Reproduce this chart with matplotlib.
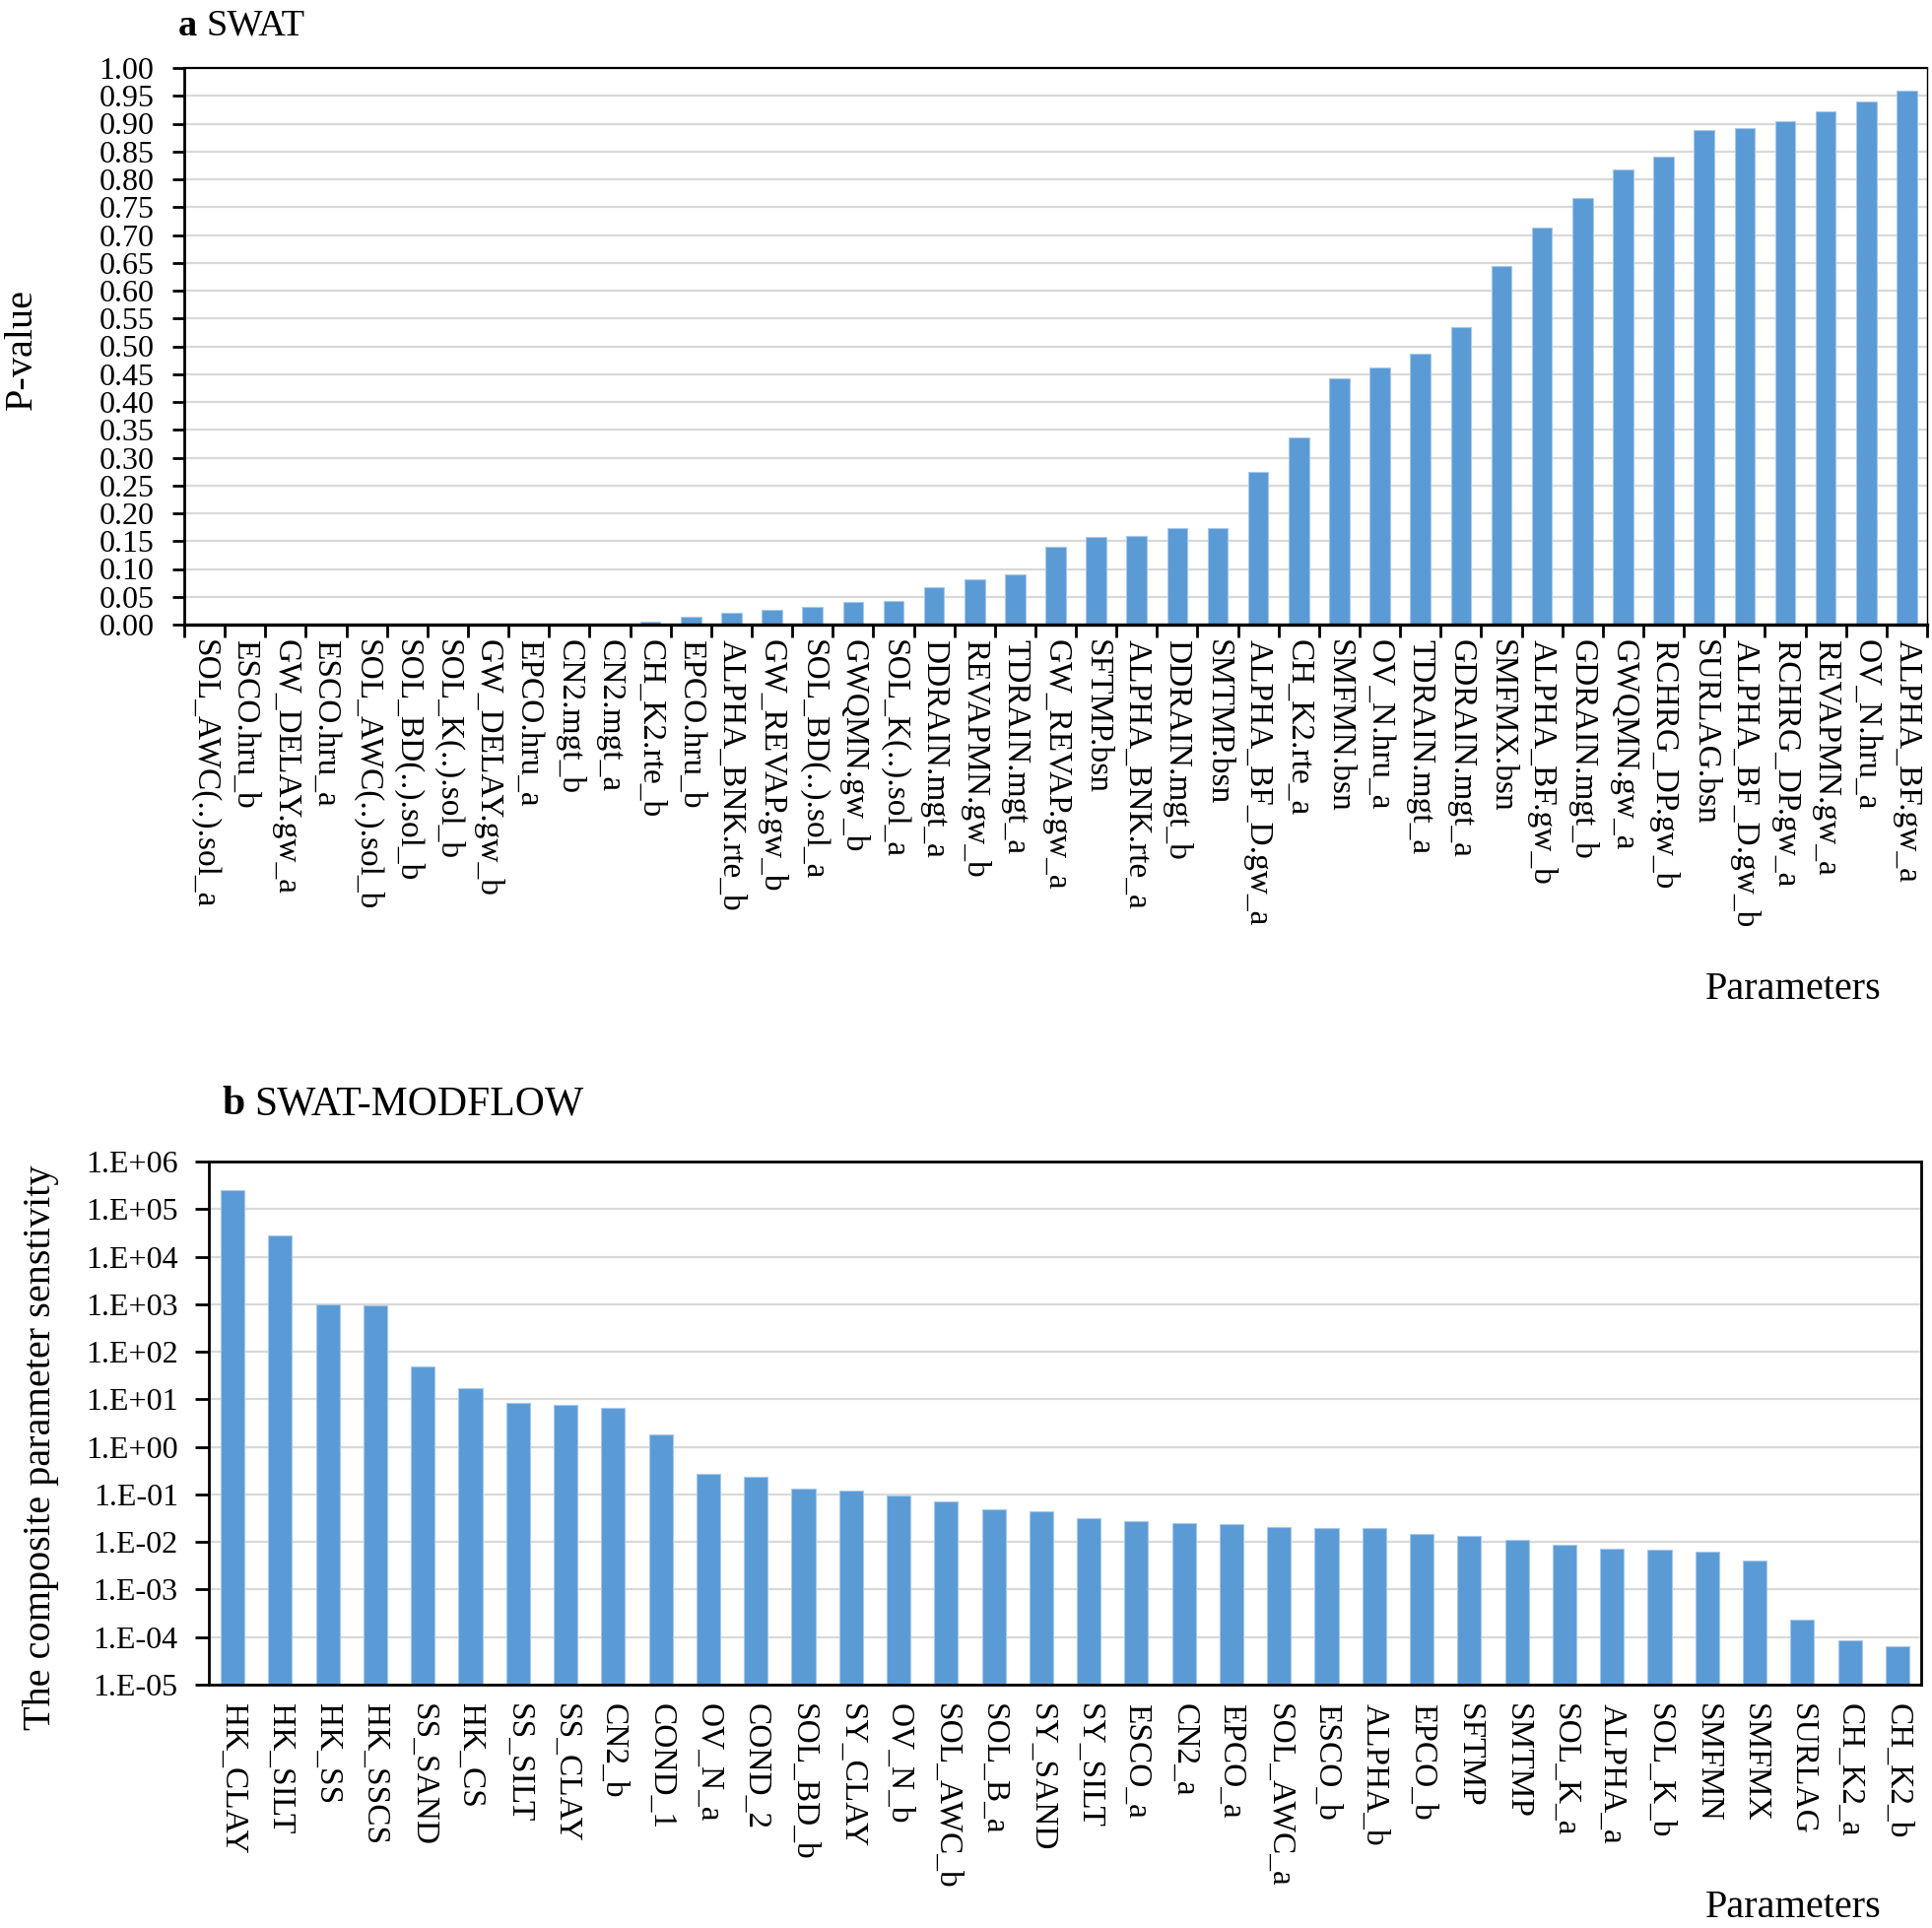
import matplotlib
matplotlib.use('Agg')
import matplotlib.pyplot as plt
import numpy as np
from matplotlib.ticker import FixedLocator, FuncFormatter, NullLocator

plt.rcParams['font.family'] = ['Liberation Serif', 'DejaVu Serif']

# ---------------- data ----------------
swat_params = [
    "SOL_AWC(..).sol_a", "ESCO.hru_b", "GW_DELAY.gw_a", "ESCO.hru_a", "SOL_AWC(..).sol_b",
    "SOL_BD(..).sol_b", "SOL_K(..).sol_b", "GW_DELAY.gw_b", "EPCO.hru_a", "CN2.mgt_b",
    "CN2.mgt_a", "CH_K2.rte_b", "EPCO.hru_b", "ALPHA_BNK.rte_b", "GW_REVAP.gw_b",
    "SOL_BD(..).sol_a", "GWQMN.gw_b", "SOL_K(..).sol_a", "DDRAIN.mgt_a", "REVAPMN.gw_b",
    "TDRAIN.mgt_a", "GW_REVAP.gw_a", "SFTMP.bsn", "ALPHA_BNK.rte_a", "DDRAIN.mgt_b",
    "SMTMP.bsn", "ALPHA_BF_D.gw_a", "CH_K2.rte_a", "SMFMN.bsn", "OV_N.hru_a",
    "TDRAIN.mgt_a", "GDRAIN.mgt_a", "SMFMX.bsn", "ALPHA_BF.gw_b", "GDRAIN.mgt_b",
    "GWQMN.gw_a", "RCHRG_DP.gw_b", "SURLAG.bsn", "ALPHA_BF_D.gw_b", "RCHRG_DP.gw_a",
    "REVAPMN.gw_a", "OV_N.hru_a", "ALPHA_BF.gw_a",
]
swat_pvalues = [
    0.0, 0.0, 0.0, 0.0, 0.0,
    0.0, 0.0, 0.0, 0.0, 0.0,
    0.0, 0.005, 0.014, 0.022, 0.027,
    0.031, 0.040, 0.042, 0.067, 0.081,
    0.090, 0.139, 0.158, 0.159, 0.173,
    0.173, 0.274, 0.337, 0.443, 0.462,
    0.486, 0.535, 0.644, 0.713, 0.766,
    0.818, 0.841, 0.888, 0.892, 0.905,
    0.923, 0.940, 0.960,
]
swat_yticks = [0.00, 0.05, 0.10, 0.15, 0.20, 0.25, 0.30, 0.35, 0.40, 0.45, 0.50,
               0.55, 0.60, 0.65, 0.70, 0.75, 0.80, 0.85, 0.90, 0.95, 1.00]

sm_params = [
    "HK_CLAY", "HK_SILT", "HK_SS", "HK_SSCS", "SS_SAND", "HK_CS", "SS_SILT", "SS_CLAY",
    "CN2_b", "COND_1", "OV_N_a", "COND_2", "SOL_BD_b", "SY_CLAY", "OV_N_b", "SOL_AWC_b",
    "SOL_B_a", "SY_SAND", "SY_SILT", "ESCO_a", "CN2_a", "EPCO_a", "SOL_AWC_a", "ESCO_b",
    "ALPHA_b", "EPCO_b", "SFTMP", "SMTMP", "SOL_K_a", "ALPHA_a", "SOL_K_b", "SMFMN",
    "SMFMX", "SURLAG", "CH_K2_a", "CH_K2_b",
]
sm_sensitivity = [
    2.5e5, 2.83e4, 980, 923, 50.2, 16.9, 8.45, 7.8,
    6.5, 1.87, 0.27, 0.24, 0.132, 0.12, 0.0944, 0.070,
    0.049, 0.0445, 0.0318, 0.0271, 0.0251, 0.0236, 0.0206, 0.0198,
    0.0198, 0.0150, 0.0136, 0.01135, 0.00895, 0.0072, 0.0069, 0.00627,
    0.00413, 2.3e-4, 8.5e-5, 6.3e-5,
]
sm_ytick_exponents = [-5, -4, -3, -2, -1, 0, 1, 2, 3, 4, 5, 6]

# ---------------- style ----------------
BLUE = '#5B9BD5'
EDGE = '#A8C8EA'
GRID = '#D9D9D9'
TICK_FS = 23
XTICK_FS = 24
LABEL_FS = 29

W, H = 1961, 1957
fig = plt.figure(figsize=(W / 100, H / 100), dpi=100)


def axes_rect(l, t, r, b):
    return [l / W, 1 - b / H, (r - l) / W, (b - t) / H]


# ---------------- panel a ----------------
ax1 = fig.add_axes(axes_rect(187, 69, 1956, 634))
n1 = len(swat_params)
x1 = np.arange(n1)
ax1.bar(x1, swat_pvalues, width=0.5, color=BLUE, edgecolor=EDGE, linewidth=0.8, zorder=3)
ax1.set_xlim(-0.5, n1 - 0.5)
ax1.set_ylim(0, 1.0)
ax1.set_yticks(swat_yticks)
ax1.set_yticklabels([f"{v:.2f}" for v in swat_yticks])
ax1.yaxis.grid(True, color=GRID, linewidth=1.6, zorder=0)
ax1.set_axisbelow(True)

ax1.xaxis.set_major_locator(FixedLocator(np.arange(n1 + 1) - 0.5))
ax1.xaxis.set_minor_locator(FixedLocator(x1))
ax1.set_xticklabels(swat_params, minor=True, rotation=270, va='top', ha='center',
                    fontsize=XTICK_FS)
ax1.tick_params(axis='x', which='major', length=9, width=2, direction='out',
                labelbottom=False, color='black')
ax1.tick_params(axis='x', which='minor', length=0, pad=11)
ax1.tick_params(axis='y', length=9, width=2, direction='out', pad=13, labelsize=TICK_FS)

ax1.spines['left'].set_linewidth(2.0)
ax1.spines['bottom'].set_linewidth(2.4)
ax1.spines['top'].set_linewidth(1.6)
ax1.spines['right'].set_linewidth(1.0)
for s in ax1.spines.values():
    s.set_color('black')
    s.set_zorder(5)

# ---------------- panel b ----------------
ax2 = fig.add_axes(axes_rect(212, 1179, 1950, 1710))
n2 = len(sm_params)
x2 = np.arange(n2)
ax2.set_yscale('log')
ax2.bar(x2, sm_sensitivity, width=0.5, color=BLUE, edgecolor=EDGE, linewidth=0.8, zorder=3)
ax2.set_xlim(-0.5, n2 - 0.5)
ax2.set_ylim(10.0 ** sm_ytick_exponents[0], 10.0 ** sm_ytick_exponents[-1])
ax2.yaxis.set_major_locator(FixedLocator([10.0 ** e for e in sm_ytick_exponents]))
ax2.yaxis.set_minor_locator(NullLocator())
ax2.yaxis.set_major_formatter(
    FuncFormatter(lambda v, p: "1.E{:+03d}".format(int(round(np.log10(v))))))
ax2.yaxis.grid(True, color=GRID, linewidth=1.6, zorder=0)
ax2.set_axisbelow(True)
ax2.set_xticks(x2)
ax2.set_xticklabels(sm_params, rotation=270, va='top', ha='center', fontsize=XTICK_FS)
ax2.tick_params(axis='x', length=0, pad=14)
ax2.tick_params(axis='y', length=10, width=2, direction='out', pad=12.5, labelsize=TICK_FS)
for s in ax2.spines.values():
    s.set_linewidth(2.0)
    s.set_color('black')
    s.set_zorder(5)

# ---------------- titles & labels ----------------
fig.canvas.draw()
rend = fig.canvas.get_renderer()

ta = fig.text(181 / W, 1 - 26 / H, 'a', fontsize=27.5, fontweight='bold', va='center', ha='left')
bb = ta.get_window_extent(rend)
fig.text((bb.x1 + 9) / W, 1 - 26 / H, 'SWAT', fontsize=27.5, va='center', ha='left')

tb = fig.text(225 / W, 1 - 1121 / H, 'b', fontsize=30, fontweight='bold', va='center',
              ha='left')
bb = tb.get_window_extent(rend)
fig.text((bb.x1 + 10) / W, 1 - 1121 / H, 'SWAT-MODFLOW', fontsize=30, va='center',
         ha='left')

fig.text(22 / W, 1 - 354 / H, 'P-value', fontsize=LABEL_FS, rotation=90, va='center',
         ha='center')
fig.text(42 / W, 1 - 1469 / H, 'The composite parameter senstivity', fontsize=LABEL_FS,
         rotation=90, va='center', ha='center')

fig.text(1910 / W, 1 - 1004 / H, 'Parameters', fontsize=LABEL_FS, va='center', ha='right')
fig.text(1910 / W, 1 - 1936 / H, 'Parameters', fontsize=LABEL_FS, va='center', ha='right')

fig.savefig('out.png', dpi=100, facecolor='white')
